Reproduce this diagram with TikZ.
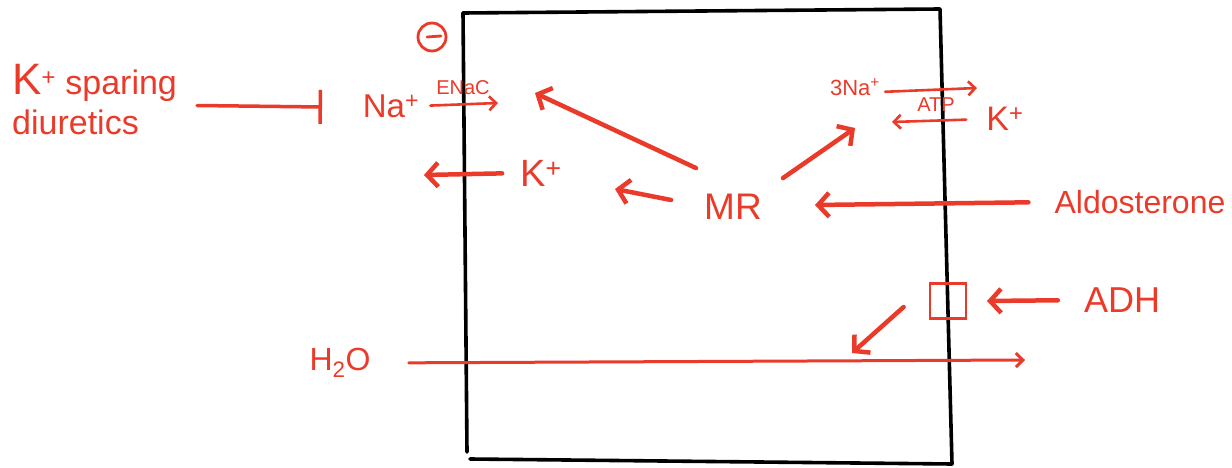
\documentclass[tikz,border=0pt]{standalone}
\usepackage{fontspec}
\setmainfont{Liberation Sans}
\usetikzlibrary{arrows.meta}
\definecolor{penred}{HTML}{EA3A2A}

\begin{document}
\begin{tikzpicture}[x=1pt,y=-1pt,
      lbl/.style={text=penred,inner sep=0pt,font=\fontsize{32}{36}\selectfont},
      sml/.style={text=penred,inner sep=0pt,font=\fontsize{20}{24}\selectfont},
      arr/.style={-{Straight Barb[length=11pt,width=24pt]},draw=penred,line width=4.5pt,line cap=round,line join=round},
      thn/.style={-{Straight Barb[length=7pt,width=14pt]},draw=penred,line width=2.6pt,line cap=round,line join=round},
      inh/.style={-{Bar[width=34pt]},draw=penred,line width=3.5pt,line cap=round}]
    \useasboundingbox (0,0) rectangle (1232,468);
    % the cell
    \draw[line width=3.6pt,line join=round,line cap=round] (463,13) -- (940,9) -- (952,464) -- (470,459);
    \draw[line width=3.6pt,line cap=round] (463,13) -- (467,452);
    % labels
    \node[circle,draw=penred,line width=2.8pt,minimum size=28pt,inner sep=0pt] (minus) at (432,37) {};
    \draw[draw=penred,line width=2.8pt,line cap=round] ([xshift=-5pt]minus.center) -- ([xshift=9pt,yshift=1pt]minus.center);
    \node[lbl,anchor=north west,align=left,font=\fontsize{34}{40}\selectfont] (kspar) at (12,64) {{\fontsize{44}{44}\selectfont K}\textsuperscript{+} sparing\\diuretics};
    \node[lbl,font=\fontsize{33}{36}\selectfont] (na) at (391,106) {Na\textsuperscript{+}};
    \node[sml] (enac) at (463,88) {ENaC};
    \node[lbl,font=\fontsize{38}{40}\selectfont] (kout) at (541,173) {K\textsuperscript{+}};
    \node[lbl,font=\fontsize{37}{40}\selectfont] (mr) at (733,207) {MR};
    \node[sml,font=\fontsize{22}{24}\selectfont] (nak) at (855,87) {3Na\textsuperscript{+}};
    \node[sml] (atp) at (936,105) {ATP};
    \node[lbl,font=\fontsize{34}{36}\selectfont] (kin) at (1005,119) {K\textsuperscript{+}};
    \node[lbl] (aldo) at (1140,202) {Aldosterone};
    \node[lbl,font=\fontsize{36}{40}\selectfont] (adh) at (1122,300) {ADH};
    \node[draw=penred,line width=2.8pt,minimum width=36pt,minimum height=35pt,inner sep=0pt] (chan) at (948,301) {};
    \node[lbl] (water) at (340,363) {H\textsubscript{2}O};
    % free ends
    \coordinate (blk) at (322,107);
    \coordinate (enacin) at (498,103);
    \coordinate (mrup) at (535,93);
    \coordinate (kleft) at (424,175);
    \coordinate (mrleft) at (615,189);
    \coordinate (pump) at (855,128);
    \coordinate (naout) at (977,88);
    \coordinate (kback) at (892,122);
    \coordinate (aldoin) at (815,205);
    \coordinate (adhin) at (987,301);
    \coordinate (wflow) at (852,353);
    \coordinate (wout) at (1025,360);
    % connectors
    \draw[inh] ([xshift=20pt,yshift=-6pt]kspar.east) -- (blk);
    \draw[thn,shorten <=11pt] (na.east) -- (enacin);
    \draw[arr] ([xshift=-8pt,yshift=26pt]mr.north west) -- (mrup);
    \draw[arr] ([xshift=-33pt,yshift=7pt]mr.west) -- (mrleft);
    \draw[arr] ([xshift=21pt,yshift=16pt]mr.north east) -- (pump);
    \draw[arr,shorten <=18pt] (kout.west) -- (kleft);
    \draw[thn,shorten <=5pt] ([yshift=-5pt]nak.east) -- (naout);
    \draw[thn,shorten <=20pt] (kin.west) -- (kback);
    \draw[arr,shorten <=26pt] (aldo.west) -- (aldoin);
    \draw[arr,shorten <=26pt] (adh.west) -- (adhin);
    \draw[arr] ([xshift=-25pt,yshift=-6pt]chan.west) -- (wflow);
    \draw[thn,line width=3pt,shorten <=38pt] (water.east) -- (wout);
  \end{tikzpicture}
\end{document}
